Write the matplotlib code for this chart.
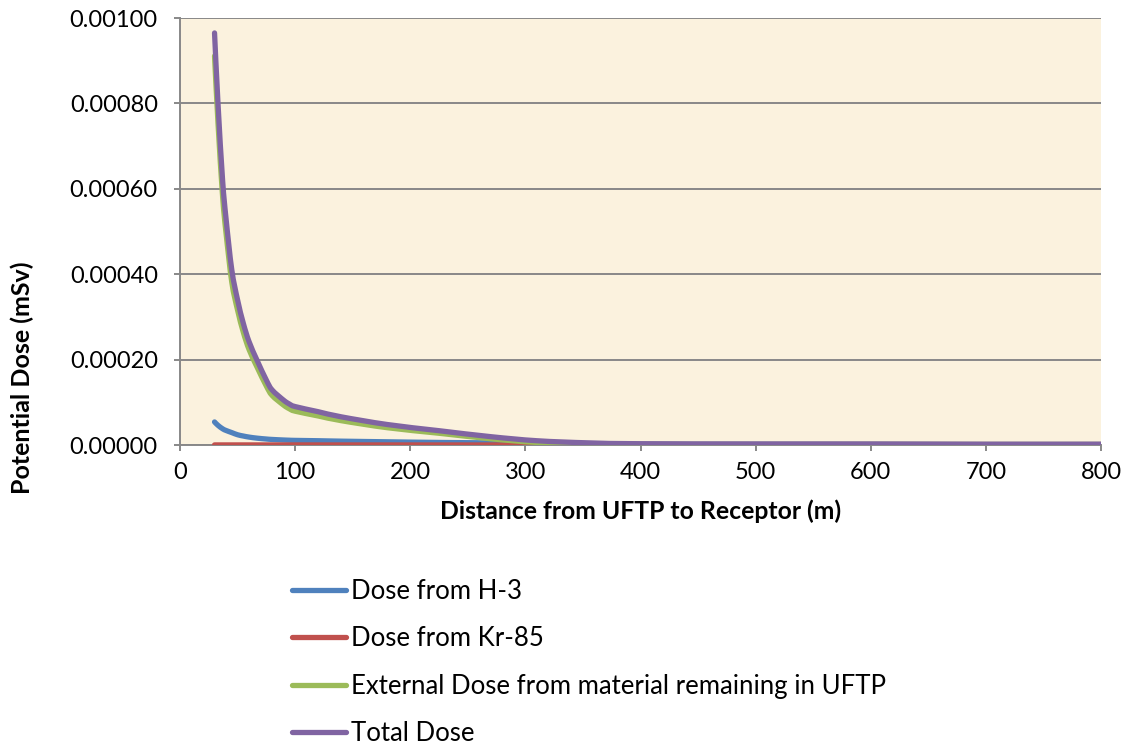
import matplotlib
matplotlib.use("Agg")
import matplotlib.pyplot as plt
from matplotlib.path import Path
from matplotlib.patches import PathPatch
from matplotlib.lines import Line2D
from matplotlib.ticker import FormatStrFormatter

# Receptor distances (m)
distance_m = [30, 33, 37, 40, 45, 50, 55, 60, 67, 75, 80, 90, 95, 100,
              120, 140, 180, 225, 270, 310, 355, 400, 500, 600, 700, 800]

# Dose components (mSv)
dose_h3 = [5.4e-5, 4.6e-5, 3.8e-5, 3.4e-5, 2.9e-5, 2.4e-5, 2.1e-5, 1.85e-5,
           1.6e-5, 1.4e-5, 1.3e-5, 1.17e-5, 1.12e-5, 1.08e-5, 1.0e-5, 9.0e-6,
           7.5e-6, 6.0e-6, 5.0e-6, 4.0e-6, 3.0e-6, 1.5e-6, 1.2e-6, 1.0e-6,
           0.8e-6, 0.7e-6]
dose_kr85 = [2e-7, 2e-7, 2e-7, 2e-7, 2e-7, 2e-7, 2e-7, 2e-7, 2e-7, 2e-7,
             2e-7, 2e-7, 2e-7, 2e-7, 1.5e-7, 1.5e-7, 1.5e-7, 1e-7, 1e-7,
             1e-7, 1e-7, 1e-7, 1e-7, 1e-7, 1e-7, 1e-7]
dose_external = [9.11e-4, 7.54e-4, 5.82e-4, 4.96e-4, 3.81e-4, 3.16e-4,
                 2.64e-4, 2.235e-4, 1.82e-4, 1.38e-4, 1.16e-4, 9.33e-5,
                 8.48e-5, 7.92e-5, 6.8e-5, 5.7e-5, 4.05e-5, 2.75e-5, 1.45e-5,
                 6.0e-6, 2.0e-6, 1.5e-6, 1.3e-6, 1.5e-6, 1.2e-6, 1.3e-6]
dose_total = [9.65e-4, 8.0e-4, 6.2e-4, 5.3e-4, 4.1e-4, 3.4e-4, 2.85e-4,
              2.42e-4, 1.98e-4, 1.52e-4, 1.29e-4, 1.05e-4, 9.6e-5, 9.0e-5,
              7.8e-5, 6.6e-5, 4.8e-5, 3.35e-5, 1.95e-5, 1.0e-5, 5.0e-6,
              3.0e-6, 2.5e-6, 2.5e-6, 2.0e-6, 2.0e-6]

series_labels = ["Dose from H-3", "Dose from Kr-85",
                 "External Dose from material remaining in UFTP", "Total Dose"]
series_colors = ["#4F81BD", "#C0504D", "#9BBB59", "#8064A2"]

x_ticks = [0, 100, 200, 300, 400, 500, 600, 700, 800]
y_ticks = [0.0, 0.0002, 0.0004, 0.0006, 0.0008, 0.0010]

plt.rcParams["font.family"] = ["Lato", "DejaVu Sans"]

W, H = 1127, 748
fig = plt.figure(figsize=(W / 100, H / 100), dpi=100)
fig.patch.set_facecolor("white")

ax_left, ax_right, ax_top, ax_bottom = 180, 1101, 18, 445
ax = fig.add_axes([ax_left / W, 1 - ax_bottom / H,
                   (ax_right - ax_left) / W, (ax_bottom - ax_top) / H])
ax.set_facecolor("#FBF2DE")

LW = 3.8


def smooth_path(xs, ys):
    """Smoothed line through the points, drawn as cubic Bezier segments."""
    pts = list(zip(xs, ys))
    n = len(pts)
    verts = [pts[0]]
    codes = [Path.MOVETO]
    for i in range(n - 1):
        p0 = pts[i - 1] if i > 0 else pts[i]
        p1 = pts[i]
        p2 = pts[i + 1]
        p3 = pts[i + 2] if i + 2 < n else pts[i + 1]
        c1 = (p1[0] + (p2[0] - p0[0]) / 6, p1[1] + (p2[1] - p0[1]) / 6)
        c2 = (p2[0] - (p3[0] - p1[0]) / 6, p2[1] - (p3[1] - p1[1]) / 6)
        verts += [c1, c2, p2]
        codes += [Path.CURVE4] * 3
    return Path(verts, codes)


handles = []
for series, lab, col in zip([dose_h3, dose_kr85, dose_external, dose_total],
                            series_labels, series_colors):
    patch = PathPatch(smooth_path(distance_m, series), facecolor="none",
                      edgecolor=col, lw=LW, capstyle="round",
                      joinstyle="round", zorder=3)
    ax.add_patch(patch)
    handles.append(Line2D([], [], color=col, lw=LW, solid_capstyle="round",
                          label=lab))

ax.set_xlim(x_ticks[0], x_ticks[-1])
ax.set_ylim(y_ticks[0], y_ticks[-1])
ax.set_xticks(x_ticks)
ax.set_yticks(y_ticks)
ax.yaxis.set_major_formatter(FormatStrFormatter("%.5f"))

grid_color = "#888888"
ax.grid(axis="y", color=grid_color, lw=1.4, zorder=1)
ax.set_axisbelow(True)

for side in ["top", "right"]:
    ax.spines[side].set_visible(False)
for side in ["left", "bottom"]:
    ax.spines[side].set_color(grid_color)
    ax.spines[side].set_linewidth(1.4)
    ax.spines[side].set_zorder(2)

ax.tick_params(axis="both", direction="out", length=4, width=1.4,
               color=grid_color, labelsize=17, labelcolor="black")
ax.tick_params(axis="y", pad=12)
ax.tick_params(axis="x", pad=8)

ax.set_xlabel("Distance from UFTP to Receptor (m)", fontsize=17.8,
              fontweight="bold", labelpad=12)
fig.text(22 / W, 1 - 378 / H, "Potential Dose (mSv)", rotation=90,
         fontsize=18, fontweight="bold", ha="center", va="center")

fig.legend(handles=handles, loc="upper left",
           bbox_to_anchor=(292 / W, 1 - 579 / H),
           frameon=False, fontsize=18.5, handlelength=2.1, handletextpad=0.2,
           labelspacing=0.87, borderpad=0, borderaxespad=0)

fig.savefig("out.png", dpi=100)
